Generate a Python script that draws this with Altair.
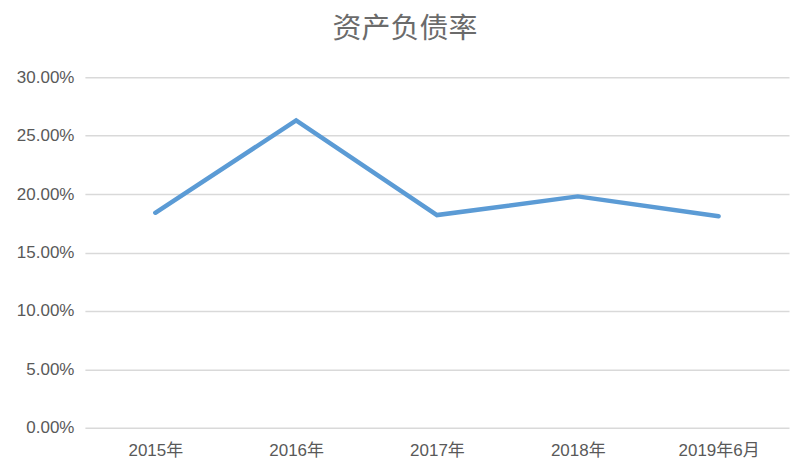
import altair as alt
import pandas as pd

categories = ["2015年", "2016年", "2017年", "2018年", "2019年6月"]
values = [0.184, 0.263, 0.182, 0.198, 0.181]
y_ticks = [0, 0.05, 0.10, 0.15, 0.20, 0.25, 0.30]

df = pd.DataFrame({"period": categories, "ratio": values})

label_font = "Liberation Sans, Noto Sans CJK SC"

chart = alt.Chart(df).mark_line(color="#5B9BD5", strokeWidth=4.5, strokeCap="round").encode(
    x=alt.X("period:N", sort=categories,
            scale=alt.Scale(type="point", padding=0.5),
            axis=alt.Axis(title=None, labelAngle=0, domain=False, ticks=False, grid=False,
                          labelFontSize=17, labelColor="#595959", labelPadding=15,
                          labelFont=label_font)),
    y=alt.Y("ratio:Q", scale=alt.Scale(domain=[0, 0.30]),
            axis=alt.Axis(title=None, format=".2%", values=y_ticks,
                          domain=False, ticks=False, gridColor="#D9D9D9", gridWidth=1.5,
                          labelFontSize=17, labelColor="#595959", labelPadding=11,
                          labelFont=label_font)),
).properties(
    width=705, height=351,
    background="white",
    title=alt.TitleParams("资产负债率", fontSize=29, color="#6b6b6b", fontWeight="normal",
                          font="Noto Sans CJK SC", offset=24, dx=-32),
    autosize=alt.AutoSizeParams(type="none"),
    padding={"left": 77, "top": 69, "right": 11, "bottom": 46},
).configure_view(strokeWidth=0, stroke="transparent")

chart.save("out.html", embed_options={"renderer": "svg", "actions": False})
